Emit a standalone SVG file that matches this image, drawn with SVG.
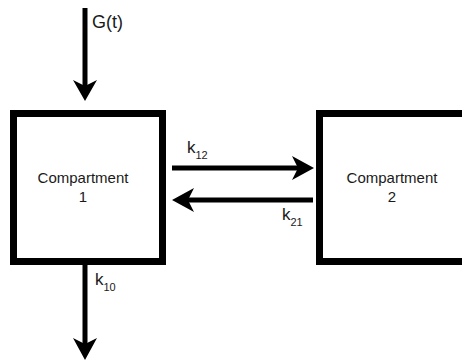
<svg xmlns="http://www.w3.org/2000/svg" width="462" height="362" viewBox="0 0 462 362">
<style>
.box{fill:#fff;stroke:#000;stroke-width:7}
.ln{stroke:#000;stroke-width:5;fill:none}
.hd{fill:#000;stroke:none}
.t{font-family:"Liberation Sans",Arial,sans-serif;fill:#1a1a1a}
.lbl{font-size:15px;text-anchor:middle}
.k{font-size:17px}
.sub{font-size:11px}
</style>
<g id="compartment1">
<rect class="box" x="13.5" y="113.5" width="149" height="148"/>
<text class="t lbl" x="83" y="183">Compartment</text>
<text class="t lbl" x="83" y="202">1</text>
</g>
<g id="compartment2">
<rect class="box" x="319.5" y="113.5" width="149" height="148"/>
<text class="t lbl" x="392" y="183">Compartment</text>
<text class="t lbl" x="392" y="202">2</text>
</g>
<g id="connectors">
<g id="input">
<line class="ln" x1="85" y1="8" x2="85" y2="88"/>
<path class="hd" d="M73,80 L85,86 L97,80 L85,101 Z"/>
<text class="t k" x="92" y="28" style="font-size:18px">G(t)</text>
</g>
<g id="k12">
<line class="ln" x1="172" y1="168" x2="302" y2="168"/>
<path class="hd" d="M292,156 L298,168 L292,180 L314,168 Z"/>
<text class="t k" x="187" y="153">k<tspan class="sub" dy="6">12</tspan></text>
</g>
<g id="k21">
<line class="ln" x1="313" y1="200" x2="184" y2="200"/>
<path class="hd" d="M194,188 L188,200 L194,212 L172,200 Z"/>
<text class="t k" x="282" y="220">k<tspan class="sub" dy="6">21</tspan></text>
</g>
<g id="k10">
<line class="ln" x1="85" y1="265" x2="85" y2="348"/>
<path class="hd" d="M73,338 L85,344 L97,338 L85,360 Z"/>
<text class="t k" x="95" y="285">k<tspan class="sub" dy="6">10</tspan></text>
</g>
</g>
</svg>
